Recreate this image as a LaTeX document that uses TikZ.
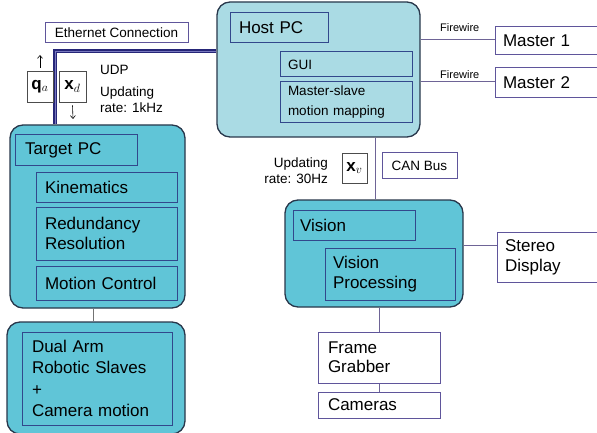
\documentclass[tikz,border=0pt]{standalone}
\usepackage{fontspec}
\setmainfont{Liberation Sans}
\usetikzlibrary{arrows.meta}
\definecolor{hostfill}{RGB}{170,219,228}
\definecolor{tfill}{RGB}{96,197,215}
\definecolor{bigborder}{RGB}{40,55,75}
\definecolor{inborder}{RGB}{50,72,140}
\definecolor{wborder}{RGB}{95,85,155}
\definecolor{ethnavy}{RGB}{38,38,120}
\definecolor{ethlight}{RGB}{120,120,190}
\definecolor{dblcol}{RGB}{110,100,150}
\newcommand\fbig{\fontsize{17}{20}\selectfont}
\newcommand\fmed{\fontsize{13.5}{20}\selectfont}
\newcommand\fsmall{\fontsize{11}{13}\selectfont}
\tikzset{
  bigbox/.style={draw=bigborder, line width=1.3pt, rounded corners=13pt, inner sep=0pt},
  inbox/.style={draw=inborder, line width=1pt, inner xsep=#1, inner ysep=0pt, align=left, font=\fbig},
  inbox/.default=9pt,
  wbox/.style={draw=wborder, line width=1pt, fill=white, inner xsep=#1, inner ysep=0pt, align=left, font=\fbig},
  wbox/.default=8pt,
  plainline/.style={draw=dblcol, line width=1pt},
  dblline/.style={draw=dblcol, line width=3pt, postaction={draw=white, line width=1.2pt}},
  ethline/.style={draw=ethnavy, line width=3.8pt, postaction={draw=ethlight, line width=0.9pt}},
  lab/.style={inner sep=0pt, font=\fmed, align=left},
  mathbox/.style={draw=black!70, line width=0.7pt, fill=white, inner sep=0pt}
}
\begin{document}
\begin{tikzpicture}[x=1pt,y=-1pt]
\clip (0,0) rectangle (597,433);
\fill[white] (0,0) rectangle (597,433);

% Host PC
\node[bigbox, fill=hostfill, minimum width=203, minimum height=135] (host) at (318.5,69.5) {};
\node[inbox=9pt, text width=80, minimum height=30] (hostlab) at (279,28) {Host PC};
\node[inbox=8pt, text width=116, minimum height=25, font=\fmed] (gui) at (346,64.5) {GUI};
\node[inbox=8pt, text width=116, minimum height=41, font=\fmed] (msmap) at (346,102.5) {Master-slave\\motion mapping};

% Masters
\node[wbox, text width=99, minimum height=28] (m1) at (552.5,41) {Master 1};
\node[wbox, text width=99, minimum height=30] (m2) at (552.5,83) {Master 2};
\draw[dblline] (m1.west -| host.east) -- (m1.west);
\draw[dblline] (m2.west -| host.east) -- (m2.west);
\node[lab, font=\fsmall, anchor=base west] (fw1) at (440,32) {Firewire};
\node[lab, font=\fsmall, anchor=base west] (fw2) at (440,79) {Firewire};

% Ethernet
\node[wbox=6pt, font=\fmed, minimum width=143, minimum height=20] (eth) at (116.5,33) {Ethernet Connection};

% Target PC
\node[bigbox, fill=tfill, minimum width=175, minimum height=183] (target) at (97.5,216.5) {};
\node[inbox=10pt, text width=102, minimum height=30] (tlab) at (76,150) {Target PC};
\node[inbox=9pt, text width=123, minimum height=30] (kin) at (106.5,187) {Kinematics};
\node[inbox=9pt, text width=123, minimum height=53] (red) at (106.5,233.5) {Redundancy\\Resolution};
\node[inbox=9pt, text width=123, minimum height=34] (mc) at (106.5,283) {Motion Control};

\coordinate (ecorner) at (55,51);
\draw[ethline] (host.west |- ecorner) -- (ecorner) -- (ecorner |- target.north);

% q_a and x_d
\node[mathbox, minimum width=26, minimum height=31] (qa) at (40,86.5) {\fontsize{17}{20}\selectfont$\mathbf{q}_a$};
\node[mathbox, minimum width=27, minimum height=31] (xd) at (72.5,86.5) {\fontsize{17}{20}\selectfont$\mathbf{x}_d$};
\coordinate (qaup) at (40,55);
\coordinate (xddown) at (73,119);
\draw[-{Straight Barb[length=3pt,width=5pt]}, line width=0.6pt] ([yshift=3]qa.north) -- (qaup);
\draw[-{Straight Barb[length=3pt,width=5pt]}, line width=0.6pt] ([yshift=-3]xd.south) -- (xddown);
\node[lab, anchor=base west] (udp) at (100,75) {UDP};
\node[lab, anchor=base west, font=\fontsize{13.5}{16}\selectfont] (rate1) at (100,113) {Updating\\rate: 1kHz};

% Dual arm
\node[bigbox, fill=tfill, minimum width=178, minimum height=112] (dualout) at (96,378) {};
\node[inbox=10pt, text width=130, minimum height=93, font=\fontsize{17}{21.5}\selectfont] (dual) at (97,378.5) {Dual Arm\\Robotic Slaves\\+\\Camera motion};
\draw[plainline, draw=black!55] ([xshift=-4.5]target.south) -- ([xshift=-3]dualout.north);

% Vision
\node[bigbox, fill=tfill, minimum width=178, minimum height=107] (vision) at (374,253.5) {};
\node[inbox=7pt, text width=108, minimum height=30] (vlab) at (354,225) {Vision};
\node[inbox=8pt, text width=114, minimum height=52] (vproc) at (390,274) {Vision\\Processing};
\draw[dblline] (vision.north |- host.south) -- (vision.north);

\node[mathbox, minimum width=25, minimum height=30] (xv) at (354.5,168) {\fontsize{17}{20}\selectfont$\mathbf{x}_v$};
\node[wbox=7pt, font=\fmed, minimum width=75, minimum height=25] (can) at (419.5,165.5) {CAN Bus};
\node[lab, anchor=east, align=right, font=\fontsize{13.5}{16}\selectfont] (rate30) at (328,171) {Updating\\rate: 30Hz};

% Stereo display
\node[wbox, text width=97, minimum height=50] (stereo) at (553.5,257) {Stereo\\Display};
\draw[plainline] ([yshift=12]stereo.west) -- ([yshift=12]stereo.west -| vision.east);

% Frame grabber and cameras
\node[wbox=10pt, text width=102, minimum height=51, font=\fontsize{17}{19}\selectfont] (fg) at (379,357.5) {Frame\\Grabber};
\node[wbox=10pt, text width=102, minimum height=26] (cam) at (379,405) {Cameras};
\draw[plainline] (fg.north) -- (fg.north |- vision.south);
\draw[plainline] (fg.south) -- (cam.north);
\end{tikzpicture}
\end{document}
